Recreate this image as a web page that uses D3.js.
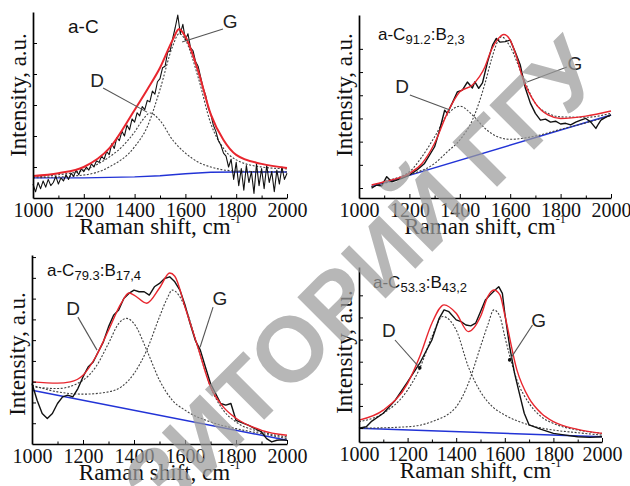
<!DOCTYPE html>
<html>
<head>
<meta charset="utf-8">
<script src="https://cdnjs.cloudflare.com/ajax/libs/d3/7.8.5/d3.min.js"></script>
<style>
  body { margin: 0; background: #fff; }
  svg { display: block; }
  .serif { font-family: "Liberation Serif", "Times New Roman", Times, "DejaVu Serif", serif; }
  .sans { font-family: "Liberation Sans", Arial, Helvetica, sans-serif; }
</style>
</head>
<body>
<div id="chart"></div>
<script>
// Raman shift tick labels (cm-1)
const ramanTicks = [1000, 1200, 1400, 1600, 1800, 2000]
const ramanMinor = [1100, 1300, 1500, 1700, 1900]

// ---- panel a-C ----
const aC_exp = [[1000,0.45],[1010,0.2],[1020,0.5],[1030,0.3],[1040,0.55],[1050,0.35],[1060,0.6],[1070,0.4],[1080,0.5],[1090,0.7],
  [1100,0.45],[1110,0.65],[1120,0.55],[1130,0.75],[1140,0.6],[1150,0.8],[1160,0.7],[1170,0.9],[1180,0.75],[1190,0.95],
  [1200,0.85],[1210,1.0],[1220,0.9],[1230,1.1],[1240,1.0],[1250,1.2],[1260,1.15],[1270,1.35],[1280,1.25],[1290,1.5],
  [1300,1.4],[1310,1.75],[1320,1.6],[1330,1.95],[1340,1.85],[1350,2.15],[1360,2.0],[1370,2.35],[1380,2.2],[1390,2.55],
  [1400,2.45],[1410,2.75],[1420,2.65],[1430,2.95],[1440,2.85],[1450,3.15],[1460,3.1],[1470,3.45],[1480,3.35],[1490,3.75],
  [1500,3.85],[1510,4.2],[1520,4.25],[1530,4.7],[1540,4.75],[1550,5.15],[1560,5.5],[1570,5.9],[1580,5.3],[1590,5.6],
  [1600,5.1],[1610,5.3],[1620,4.85],[1630,4.75],[1640,4.4],[1650,4.25],[1660,3.9],[1670,3.55],[1680,3.3],[1690,2.9],
  [1700,2.7],[1710,2.35],[1720,2.15],[1730,1.85],[1740,1.7],[1750,1.45],[1760,1.35],[1770,1.0],[1780,1.25],[1790,0.6],
  [1800,1.15],[1810,0.4],[1820,0.95],[1830,0.25],[1840,1.05],[1850,0.5],[1860,0.85],[1870,0.15],[1880,1.1],[1890,0.4],
  [1900,0.95],[1910,0.3],[1920,1.05],[1930,0.5],[1940,0.85],[1950,0.2],[1960,0.9],[1970,0.45],[1980,1.0],[1990,0.6],[2000,0.8]]
const aC_fit = [[1000,0.71],[1100,0.8],[1200,1.0],[1300,1.6],[1400,2.84],[1450,3.5],[1500,4.2],[1550,5.1],[1575,5.45],
  [1600,5.2],[1650,4.1],[1700,2.7],[1750,1.87],[1800,1.39],[1900,1.1],[2000,0.97]]
const aC_D = [[1000,0.68],[1100,0.75],[1200,0.9],[1300,1.32],[1350,1.65],[1400,2.13],[1430,2.5],[1461,2.74],[1500,2.5],
  [1550,1.87],[1600,1.45],[1650,1.16],[1700,1.0],[1800,0.87],[2000,0.84]]
const aC_G = [[1000,0.65],[1200,0.74],[1300,1.0],[1400,1.65],[1450,2.3],[1500,3.5],[1550,4.9],[1575,5.3],[1600,5.1],
  [1650,3.9],[1700,2.4],[1750,1.6],[1800,1.23],[1900,1.0],[2000,0.94]]
const aC_base = [[1000,0.65],[1200,0.65],[1400,0.68],[1500,0.72],[1600,0.78],[1700,0.83],[1800,0.84],[2000,0.84]]

// ---- panel a-C91.2:B2,3 ----
const c91_exp = [[1050,0.99],[1070,1.13],[1090,1.09],[1110,1.49],[1130,1.27],[1150,1.34],[1170,1.42],[1200,1.56],[1230,1.78],
  [1260,2.06],[1300,2.78],[1320,3.5],[1340,4.36],[1350,4.22],[1370,4.66],[1390,5.14],[1410,5.22],[1430,5.57],[1450,5.31],
  [1460,5.58],[1475,5.3],[1490,5.53],[1510,6.43],[1530,7.16],[1545,7.45],[1560,7.29],[1580,7.31],[1600,7.38],[1620,6.86],
  [1640,6.3],[1660,5.31],[1680,4.66],[1700,4.22],[1720,3.93],[1740,3.97],[1760,3.84],[1780,3.88],[1800,3.76],[1820,3.79],
  [1840,3.72],[1860,3.84],[1880,3.93],[1900,4.0],[1920,3.84],[1940,3.57],[1950,3.76],[1960,3.93],[1980,4.06],[2000,4.15]]
const c91_fit = [[1050,1.13],[1100,1.27],[1200,1.63],[1250,2.06],[1300,2.93],[1350,4.22],[1400,5.15],[1450,5.44],[1500,6.23],
  [1525,6.95],[1550,7.41],[1575,7.62],[1600,7.38],[1625,6.66],[1650,5.73],[1700,4.65],[1750,4.15],[1800,4.0],[1900,4.1],[2000,4.32]]
const c91_D = [[1050,1.06],[1100,1.27],[1200,1.7],[1250,2.35],[1300,3.21],[1350,4.15],[1400,4.53],[1450,4.15],[1500,3.57],
  [1550,3.21],[1600,3.1],[1700,3.24],[1800,3.53],[1900,3.81],[2000,4.12]]
const c91_G = [[1050,1.06],[1200,1.56],[1300,2.06],[1350,2.56],[1400,3.07],[1450,3.93],[1500,5.51],[1525,6.52],[1550,7.31],
  [1565,7.52],[1600,7.09],[1650,5.8],[1700,4.65],[1750,4.22],[1800,4.07],[1900,4.05],[2000,4.22]]
const c91_base = [[1050,1.06],[2000,4.15]]

// ---- panel a-C79.3:B17,4 ----
const c79_exp = [[1000,2.91],[1020,2.11],[1040,1.47],[1060,1.23],[1080,1.47],[1100,1.95],[1120,2.27],[1140,2.35],[1160,2.27],
  [1180,2.67],[1200,3.23],[1220,3.71],[1240,3.95],[1260,4.44],[1280,4.92],[1300,5.64],[1320,6.2],[1340,6.45],[1360,7.01],
  [1380,7.25],[1400,7.41],[1420,7.33],[1440,7.33],[1460,7.17],[1480,7.57],[1500,7.73],[1520,7.97],[1540,8.05],[1560,7.81],
  [1580,7.41],[1600,6.69],[1620,5.8],[1640,5.0],[1660,4.52],[1680,3.71],[1700,2.91],[1720,2.43],[1740,1.95],[1760,1.87],
  [1780,1.95],[1800,1.14],[1850,0.9],[1900,0.58],[1920,0.26],[1940,0.1],[1960,0.18],[1980,0.2],[2000,0.18]]
const c79_fit = [[1000,2.99],[1100,2.93],[1150,2.99],[1200,3.31],[1250,4.2],[1300,5.48],[1350,6.78],[1380,7.27],[1400,7.17],
  [1450,6.78],[1500,7.51],[1540,8.23],[1560,8.08],[1600,6.6],[1650,4.68],[1700,2.75],[1750,1.79],[1800,1.24],[1900,0.66],[2000,0.42]]
const c79_D = [[1000,2.75],[1100,2.67],[1200,3.07],[1250,3.71],[1300,4.84],[1340,5.8],[1370,6.05],[1400,5.8],[1450,4.52],
  [1500,3.07],[1550,2.11],[1600,1.63],[1700,1.06],[1800,0.74],[1900,0.5],[2000,0.26]]
const c79_G = [[1000,2.83],[1100,2.51],[1200,2.4],[1300,2.51],[1350,2.75],[1400,3.39],[1450,4.52],[1500,6.12],[1530,7.01],
  [1550,7.41],[1600,6.6],[1650,4.68],[1700,2.75],[1750,1.63],[1800,1.06],[1900,0.58],[2000,0.34]]
const c79_base = [[1000,2.59],[2000,0.18]]

// ---- panel a-C53.3:B43,2 ----
const c53_exp = [[1000,0.99],[1030,1.06],[1050,1.29],[1100,1.67],[1150,2.27],[1200,3.09],[1250,3.93],[1300,4.98],[1330,5.96],
  [1350,6.34],[1370,6.26],[1400,5.89],[1420,5.81],[1440,5.66],[1460,5.62],[1480,5.74],[1500,6.26],[1520,6.79],[1540,7.02],
  [1560,7.24],[1575,7.39],[1590,7.09],[1600,6.19],[1620,4.68],[1640,3.48],[1660,2.57],[1680,1.67],[1700,1.14],[1750,0.94],
  [1800,0.76],[1850,0.68],[1900,0.61],[1950,0.58],[2000,0.61]]
const c53_fit = [[1000,1.36],[1100,1.81],[1200,3.02],[1250,4.23],[1300,5.74],[1350,6.57],[1400,6.19],[1450,5.36],[1500,6.04],
  [1530,6.94],[1555,7.24],[1580,7.02],[1600,6.11],[1650,3.62],[1700,2.34],[1750,1.67],[1800,1.29],[1900,0.94],[2000,0.76]]
const c53_D = [[1000,1.29],[1100,1.67],[1200,2.72],[1250,3.7],[1300,5.13],[1345,6.04],[1400,5.43],[1450,3.77],[1500,2.64],
  [1550,1.96],[1600,1.59],[1700,1.14],[1800,0.91],[1900,0.79],[2000,0.68]]
const c53_G = [[1000,0.99],[1200,1.06],[1300,1.29],[1400,1.96],[1450,3.02],[1500,4.68],[1530,5.66],[1555,6.34],[1580,6.04],
  [1600,5.13],[1650,3.17],[1700,2.12],[1750,1.51],[1800,1.21],[1900,0.91],[2000,0.76]]
const c53_base = [[1000,0.99],[2000,0.61]]

// sample names: [main, sub1, mid, sub2]
const sampleNames = [["a-C"], ["a-C", "91.2", ":B", "2,3"], ["a-C", "79.3", ":B", "17,4"], ["a-C", "53.3", ":B", "43,2"]]
// label anchors and leader lines in data units: [label shift, label I, from shift, from I, to shift, to I]
const dNotes = [[1252,3.58,1276,3.55,1449,2.77],[1171,5.09,1202,5.01,1361,4.36],[1161,6.2,1180,6.11,1255,4.52],[1123,5.12,1148,4.98,1250,3.72]]
const gNotes = [[1776,5.48,1748,5.45,1587,5.03],[1857,6.09,1825,6.22,1667,5.57],[1737,6.69,1710,6.59,1659,4.66],[1739,5.57,1714,5.66,1620,4.08]]
const yTickSets = [[1,2,3,4,5],[1,2,3,4,5,6,7],[1,2,3,4,5,6,7,8,9],[1,2,3,4,5,6,7]]
const yDomains = [[0,6],[0.57,8.46],[0,9.1],[0.37,8.28]]

const series = [
  {exp: aC_exp, fit: aC_fit, D: aC_D, G: aC_G, base: aC_base},
  {exp: c91_exp, fit: c91_fit, D: c91_D, G: c91_G, base: c91_base},
  {exp: c79_exp, fit: c79_fit, D: c79_D, G: c79_G, base: c79_base},
  {exp: c53_exp, fit: c53_fit, D: c53_D, G: c53_G, base: c53_base}
]

// panel frames in pixels
const frames = [
  {left: 33, right: 287, top: 12, bottom: 198, ylab: 95, nameX: 68, nameY: 33, nameSize: 19},
  {left: 359, right: 611, top: 15, bottom: 198, ylab: 95, nameX: 378, nameY: 40, nameSize: 17},
  {left: 32, right: 287, top: 255, bottom: 444, ylab: 354, nameX: 47, nameY: 276, nameSize: 17},
  {left: 359, right: 602, top: 267, bottom: 442, ylab: 352, nameX: 373, nameY: 288, nameSize: 17}
]

const svg = d3.select("#chart").append("svg")
  .attr("width", 630).attr("height", 486)
  .style("background", "#fff")

frames.forEach((f, i) => {
  const s = series[i]
  const x = d3.scaleLinear().domain([1000, 2000]).range([f.left, f.right])
  const y = d3.scaleLinear().domain(yDomains[i]).range([f.bottom, f.top])
  const g = svg.append("g")

  const smooth = d3.line().x(d => x(d[0])).y(d => y(d[1])).curve(d3.curveMonotoneX)
  const raw = d3.line().x(d => x(d[0])).y(d => y(d[1]))

  // baseline
  g.append("path").attr("d", raw(s.base)).attr("fill", "none")
    .attr("stroke", "#2233d6").attr("stroke-width", 1.4)
  // components
  g.append("path").attr("d", smooth(s.D)).attr("fill", "none")
    .attr("stroke", "#404040").attr("stroke-width", 1.1).attr("stroke-dasharray", "2,1.6")
  g.append("path").attr("d", smooth(s.G)).attr("fill", "none")
    .attr("stroke", "#404040").attr("stroke-width", 1.1).attr("stroke-dasharray", "2,1.6")
  // experiment
  g.append("path").attr("d", raw(s.exp)).attr("fill", "none")
    .attr("stroke", "#111").attr("stroke-width", i == 0 ? 1.1 : 1.4).attr("stroke-linejoin", "round")
  // fit
  g.append("path").attr("d", smooth(s.fit)).attr("fill", "none")
    .attr("stroke", "#e8262e").attr("stroke-width", i == 0 ? 2 : 1.4)

  // axes
  const xa = g.append("g").attr("transform", `translate(0,${f.bottom})`)
    .call(d3.axisBottom(x).tickValues(ramanTicks).tickSizeInner(-4).tickSizeOuter(0).tickPadding(5).tickFormat(d3.format("d")))
  xa.attr("font-family", null).attr("font-size", null)
  g.append("g").attr("transform", `translate(0,${f.bottom})`)
    .call(d3.axisBottom(x).tickValues(ramanMinor).tickSizeInner(-2.5).tickSizeOuter(0).tickFormat(""))
    .select(".domain").remove()
  g.append("g").attr("transform", `translate(${f.left},0)`)
    .call(d3.axisLeft(y).tickValues(yTickSets[i]).tickSizeInner(-4).tickSizeOuter(0).tickFormat(""))
  g.selectAll(".domain").attr("stroke", "#000").attr("stroke-width", 1.7)
  g.selectAll(".tick line").attr("stroke", "#000").attr("stroke-width", 1)
  xa.selectAll("text").attr("class", "serif").style("font-size", "20px").attr("fill", "#111")

  // axis titles
  const xt = g.append("text").attr("class", "serif")
    .attr("x", (f.left + f.right) / 2).attr("y", f.bottom + 36)
    .attr("text-anchor", "middle")
    .style("font-size", "23px").attr("fill", "#111")
  xt.append("tspan").text("Raman shift, cm")
  xt.append("tspan").attr("dy", -11).style("font-size", "12px").text("-1")

  g.append("text").attr("class", "serif")
    .attr("transform", `translate(${f.left - 7},${f.ylab}) rotate(-90)`)
    .attr("text-anchor", "middle")
    .style("font-size", "23px").attr("fill", "#111")
    .text("Intensity, a.u.")

  // sample name with subscripts
  const nm = sampleNames[i]
  const t = g.append("text").attr("class", "sans").attr("x", f.nameX).attr("y", f.nameY)
    .style("font-size", f.nameSize + "px").attr("fill", "#111")
  t.append("tspan").text(nm[0])
  if (nm.length > 1) {
    t.append("tspan").attr("dy", 4).style("font-size", "13px").text(nm[1])
    t.append("tspan").attr("dy", -4).text(nm[2])
    t.append("tspan").attr("dy", 4).style("font-size", "13px").text(nm[3])
  }

  // D and G annotations
  ;[["D", dNotes[i]], ["G", gNotes[i]]].forEach(([lab, n]) => {
    g.append("line")
      .attr("x1", x(n[2])).attr("y1", y(n[3]))
      .attr("x2", x(n[4])).attr("y2", y(n[5]))
      .attr("stroke", "#555").attr("stroke-width", 1.1)
    g.append("text").attr("class", "sans").attr("x", x(n[0])).attr("y", y(n[1]))
      .attr("text-anchor", "middle")
      .style("font-size", "19px").attr("fill", "#222")
      .text(lab)
    if (i == 3) {
      g.append("circle").attr("cx", x(n[4])).attr("cy", y(n[5])).attr("r", 1.8).attr("fill", "#111")
    }
  })
})

// repository watermark
svg.append("text").attr("class", "sans")
  .attr("transform", "translate(607,77) rotate(-45)")
  .attr("text-anchor", "end")
  .style("font-size", "92px").style("font-weight", "bold")
  .attr("fill", "#9c9c9c").attr("opacity", 0.72)
  .text("РЕПОЗИТОРИЙ ГГУ")
</script>
</body>
</html>
